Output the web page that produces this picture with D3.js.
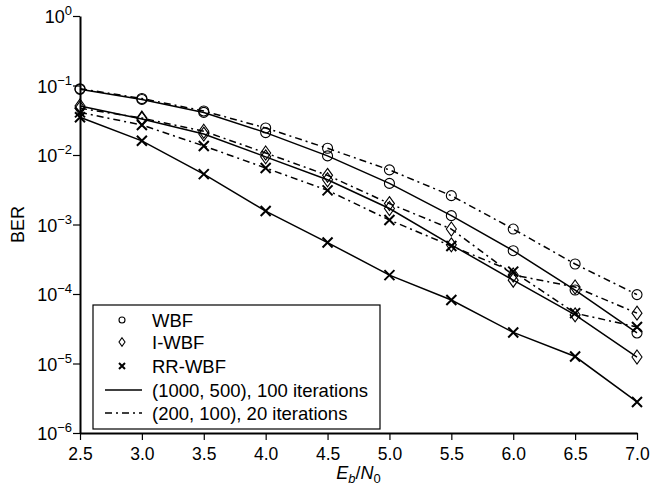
<!DOCTYPE html>
<html>
<head>
<meta charset="utf-8">
<script src="https://cdn.jsdelivr.net/npm/d3@7"></script>
<style>
  body { margin: 0; background: #fff; }
  svg { display: block; font-family: "Liberation Sans", Arial, Helvetica, sans-serif; }
</style>
</head>
<body>
<svg id="chart"></svg>
<script>
// Eb/N0 values
const ebn0 = [2.5, 3.0, 3.5, 4.0, 4.5, 5.0, 5.5, 6.0, 6.5, 7.0];

// (1000, 500), 100 iterations
const wbfLong  = [0.088, 0.063, 0.041, 0.021, 0.0097, 0.0039, 0.00134, 0.00042, 0.000114, 2.75e-5];
const iwbfLong = [0.0507, 0.033, 0.020, 0.0094, 0.0044, 0.0017, 0.00051, 0.000158, 5.0e-5, 1.24e-5];
const rrLong   = [0.035, 0.016, 0.0053, 0.00156, 0.00055, 0.000187, 8.2e-5, 2.8e-5, 1.26e-5, 2.8e-6];

// (200, 100), 20 iterations
const wbfShort  = [0.09, 0.065, 0.043, 0.0245, 0.0125, 0.0061, 0.0026, 0.00086, 0.00027, 9.8e-5];
const iwbfShort = [0.047, 0.034, 0.022, 0.0107, 0.0051, 0.0020, 0.00086, 0.000188, 0.000126, 5.3e-5];
const rrShort   = [0.041, 0.027, 0.0135, 0.0065, 0.0031, 0.00116, 0.00049, 0.00021, 5.3e-5, 3.35e-5];

const xTicks = [2.5, 3.0, 3.5, 4.0, 4.5, 5.0, 5.5, 6.0, 6.5, 7.0];
const yExponents = [0, -1, -2, -3, -4, -5, -6];

const legendNames = ["WBF", "I-WBF", "RR-WBF"];
const legendLines = ["(1000, 500), 100 iterations", "(200, 100), 20 iterations"];

const width = 650, height = 488;
const margin = { top: 16, right: 13, bottom: 55, left: 80 };
const dashStyle = "7,4,2,4";

const svg = d3.select("#chart").attr("width", width).attr("height", height);

const x = d3.scaleLinear().domain([2.5, 7.0]).range([margin.left, width - margin.right]);
const y = d3.scaleLog().domain([1e-6, 1]).range([height - margin.bottom, margin.top]);

// series table
const series = [
  { values: wbfLong, marker: "circle", dashed: false },
  { values: wbfShort, marker: "circle", dashed: true },
  { values: iwbfLong, marker: "diamond", dashed: false },
  { values: iwbfShort, marker: "diamond", dashed: true },
  { values: rrLong, marker: "cross", dashed: false },
  { values: rrShort, marker: "cross", dashed: true }
];

const line = d3.line().x(d => x(d[0])).y(d => y(d[1]));

// lines
series.forEach(s => {
  svg.append("path")
    .datum(ebn0.map((e, i) => [e, s.values[i]]))
    .attr("fill", "none")
    .attr("stroke", "#000")
    .attr("stroke-width", 1.5)
    .attr("stroke-dasharray", s.dashed ? dashStyle : null)
    .attr("d", line);
});

// marker drawing helper
function drawMarker(g, type, cx, cy, scale) {
  if (type === "circle") {
    g.append("circle").attr("cx", cx).attr("cy", cy).attr("r", 5 * scale)
      .attr("fill", "none").attr("stroke", "#000").attr("stroke-width", 1.1);
  } else if (type === "diamond") {
    const w = 5 * scale, h = 7 * scale;
    g.append("path")
      .attr("d", `M${cx},${cy - h}L${cx + w},${cy}L${cx},${cy + h}L${cx - w},${cy}Z`)
      .attr("fill", "none").attr("stroke", "#000").attr("stroke-width", 1.1);
  } else {
    const r = 5 * scale;
    g.append("path")
      .attr("d", `M${cx - r},${cy - r}L${cx + r},${cy + r}M${cx - r},${cy + r}L${cx + r},${cy - r}`)
      .attr("fill", "none").attr("stroke", "#000").attr("stroke-width", 2);
  }
}

const markers = svg.append("g");
series.forEach(s => {
  ebn0.forEach((e, i) => drawMarker(markers, s.marker, x(e), y(s.values[i]), 1));
});

// x axis
const xAxis = svg.append("g")
  .attr("transform", `translate(0,${height - margin.bottom})`)
  .call(d3.axisBottom(x).tickValues(xTicks).tickFormat(d3.format(".1f")).tickSize(7).tickSizeOuter(0));
xAxis.select(".domain").attr("stroke-width", 2);
xAxis.selectAll(".tick line").attr("stroke-width", 1.2);
xAxis.selectAll(".tick text").attr("font-size", 17.5).attr("dy", "0.95em").attr("fill", "#000")
  .attr("font-family", "'Liberation Sans', Arial, sans-serif");

// y axis
const yAxis = svg.append("g")
  .attr("transform", `translate(${margin.left},0)`)
  .call(d3.axisLeft(y).tickValues(yExponents.map(p => Math.pow(10, p))).tickFormat("").tickSize(7).tickSizeOuter(0));
yAxis.select(".domain").attr("stroke-width", 2);
yAxis.selectAll(".tick line").attr("stroke-width", 1.2);

const yLabels = svg.append("g").attr("font-size", 18).attr("text-anchor", "end");
yExponents.forEach(p => {
  const t = yLabels.append("text")
    .attr("x", margin.left - 8)
    .attr("y", y(Math.pow(10, p)) + 7);
  t.append("tspan").text("10");
  t.append("tspan").attr("font-size", 13).attr("dy", -8).text(p === 0 ? "0" : "\u2212" + (-p));
});

// axis titles
svg.append("text")
  .attr("transform", `translate(24,${(margin.top + height - margin.bottom) / 2}) rotate(-90)`)
  .attr("text-anchor", "middle").attr("font-size", 18).text("BER");

const xt = svg.append("text")
  .attr("x", (margin.left + width - margin.right) / 2)
  .attr("y", 479).attr("text-anchor", "middle").attr("font-size", 18);
xt.append("tspan").attr("font-style", "italic").text("E");
xt.append("tspan").attr("font-style", "italic").attr("font-size", 13).attr("dy", 4).text("b");
xt.append("tspan").attr("dy", -4).text("/");
xt.append("tspan").attr("font-style", "italic").text("N");
xt.append("tspan").attr("font-size", 13).attr("dy", 4).text("0");

// legend
const legend = svg.append("g");
legend.append("rect")
  .attr("x", 93).attr("y", 305).attr("width", 287).attr("height", 124)
  .attr("fill", "#fff").attr("stroke", "#000").attr("stroke-width", 1.2);

const markerTypes = ["circle", "diamond", "cross"];
const rowY = [320, 342, 366, 390, 413];
legendNames.forEach((name, i) => {
  drawMarker(legend, markerTypes[i], 122, rowY[i], 0.6);
  legend.append("text").attr("x", 152).attr("y", rowY[i] + 6.5).attr("font-size", 18.5).text(name);
});
legendLines.forEach((name, i) => {
  const yy = rowY[3 + i];
  legend.append("line")
    .attr("x1", 105).attr("x2", 142).attr("y1", yy).attr("y2", yy)
    .attr("stroke", "#000").attr("stroke-width", 1.5)
    .attr("stroke-dasharray", i === 1 ? dashStyle : null);
  legend.append("text").attr("x", 152).attr("y", yy + 6.5).attr("font-size", 18.5).text(name);
});
</script>
</body>
</html>
